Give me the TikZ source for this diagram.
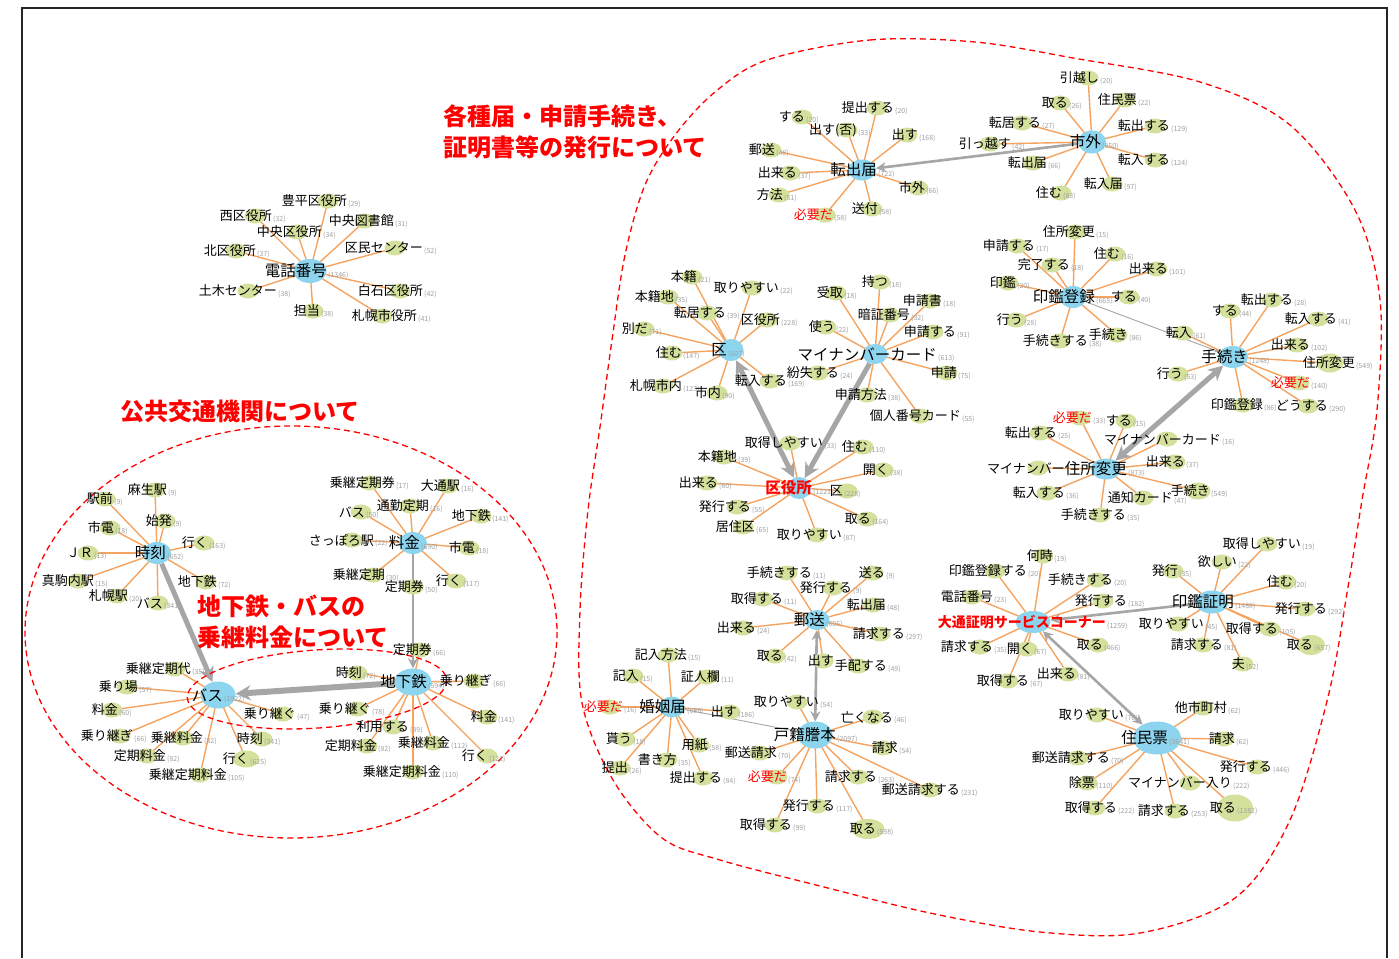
\documentclass[tikz,border=0pt]{standalone}
\usepackage{fontspec}
\setmainfont{Noto Sans CJK JP}
\usetikzlibrary{arrows.meta,shapes.geometric}
\pgfdeclarelayer{bglayer}
\pgfdeclarelayer{edgelayer}
\pgfdeclarelayer{labellayer}
\pgfsetlayers{bglayer,edgelayer,main,labellayer}
\definecolor{hubc}{HTML}{8DD5EE}
\definecolor{leafc}{HTML}{D4E19C}
\definecolor{edgec}{HTML}{F4A460}
\definecolor{arrc}{HTML}{A6A6A6}
\definecolor{cntc}{HTML}{A0A0A0}
\newcount\leafno
\pgfkeys{/leaf/.cd, dx/.code={\def\leafdx{#1}}, w/.code={\def\leafw{#1}}, h/.code={\def\leafh{#1}}}
\tikzset{
  hubnode/.style={ellipse, fill=hubc, draw=none, inner sep=0pt, minimum width=30pt, minimum height=22pt},
  leafnode/.style={ellipse, fill=leafc, draw=none, inner sep=0pt},
  edge/.style={draw=edgec, line width=1.4pt},
  lbl/.style={anchor=east, inner sep=0pt, font=\fontsize{13}{13}\selectfont},
  hublbl/.style={anchor=east, inner sep=0pt, font=\fontsize{15.5}{15.5}\selectfont},
  cnt/.style={anchor=base west, inner sep=0pt, text=cntc, font=\fontsize{7}{7}\selectfont},
  title/.style={anchor=west, inner sep=0pt, text=red, font=\fontsize{24}{24}\selectfont\bfseries},
  reddash/.style={draw=red, line width=1.3pt, dash pattern=on 6pt off 4pt},
  bigarr/.style={draw=arrc, line width=5pt, -{Stealth[length=15pt,width=15pt]}},
  bigdbl/.style={draw=arrc, line width=5pt, {Stealth[length=15pt,width=15pt]}-{Stealth[length=15pt,width=15pt]}},
  midarr/.style={draw=arrc, line width=2.6pt, -{Stealth[length=10pt,width=10pt]}},
  middbl/.style={draw=arrc, line width=2.6pt, {Stealth[length=10pt,width=10pt]}-{Stealth[length=10pt,width=10pt]}},
  slimarr/.style={draw=arrc, line width=0.9pt, -{Stealth[length=5pt,width=4pt]}}
}
\newcommand\Hub[7][]{%
  \node[hubnode,#1] (#2) at (#3,#4) {};
  \begin{pgfonlayer}{labellayer}
    \node[hublbl] (#2t) at (#5,#4) {#6};
    \node[cnt] (#2c) at ({#5+1},{#4+6}) {(#7)};
  \end{pgfonlayer}}
\newcommand\Leaf[6][]{%
  \def\leafdx{16}\def\leafw{21}\def\leafh{15}%
  \pgfkeys{/leaf/.cd,#1}%
  \global\advance\leafno by 1\relax
  \node[leafnode,minimum width=\leafw pt,minimum height=\leafh pt] (L\the\leafno) at ({#3-(\leafdx)},{#4}) {};
  \begin{pgfonlayer}{edgelayer}
    \draw[edge] (#2.center) -- (L\the\leafno.center);
  \end{pgfonlayer}
  \begin{pgfonlayer}{labellayer}
    \node[lbl] (T\the\leafno) at (#3,#4) {#5};
    \node[cnt] (C\the\leafno) at ({#3+1},{#4+5}) {\if\relax\detokenize{#6}\relax\else(#6)\fi};
  \end{pgfonlayer}}
\begin{document}
\begin{tikzpicture}[x=1pt,y=-1pt]
\useasboundingbox (0,0) rectangle (1399,958);
\begin{pgfonlayer}{bglayer}
\fill[white] (0,0) rectangle (1399,958);
\end{pgfonlayer}
\draw[line width=1.3pt, black!85] (22,958) -- (22,8) -- (1387,8) -- (1387,958);

% titles
\node[title] (t1) at (443,116) {各種届・申請手続き、};
\node[title] (t2) at (443,147) {証明書等の発行について};
\node[title] (t3) at (120,411) {公共交通機関について};
\node[title] (t4) at (197,606) {地下鉄・バスの};
\node[title] (t5) at (197,637) {乗継料金について};

% dashed regions
\draw[reddash] (291,632) ellipse [x radius=266, y radius=206];
\draw[reddash, rotate around={4:(317,689)}] (317,689) ellipse [x radius=130, y radius=39];
\draw[reddash] plot[smooth cycle, tension=0.55] coordinates {
 (767,60) (870,40) (975,42) (1073,58) (1200,82) (1290,125) (1355,210) (1380,300)
 (1377,410) (1362,500) (1348,587) (1328,697) (1290,820) (1235,898) (1140,933)
 (1040,932) (930,913) (820,886) (720,860) (662,838) (613,780) (582,703) (580,610)
 (588,510) (600,427) (612,340) (625,255) (645,185) (675,135) (715,92)};

% ===== 電話番号
\Hub[minimum width=33pt,minimum height=24pt]{tel}{310}{271}{327}{電話番号}{1346}
\Leaf[dx=19]{tel}{347}{201}{豊平区役所}{29}
\Leaf[dx=17]{tel}{272}{216}{西区役所}{32}
\Leaf[dx=29]{tel}{394}{221}{中央図書館}{31}
\Leaf[dx=25]{tel}{322}{232}{中央区役所}{34}
\Leaf[dx=20]{tel}{256}{251}{北区役所}{37}
\Leaf[dx=28]{tel}{423}{248}{区民センター}{52}
\Leaf[dx=29]{tel}{277}{291}{土木センター}{38}
\Leaf[dx=23]{tel}{423}{291}{白石区役所}{42}
\Leaf[dx=7]{tel}{320}{311}{担当}{38}
\Leaf[dx=35]{tel}{417}{316}{札幌市役所}{41}

% ===== 時刻
\Hub[minimum width=28pt,minimum height=22pt]{jikoku}{157}{553}{166}{時刻}{652}
\Leaf[dx=12]{jikoku}{167}{490}{麻生駅}{9}
\Leaf[dx=8]{jikoku}{113}{499}{駅前}{9}
\Leaf[dx=7]{jikoku}{172}{521}{始発}{9}
\Leaf[dx=4]{jikoku}{114}{528}{市電}{18}
\Leaf[dx=4]{jikoku}{208}{543}{行く}{163}
\Leaf[dx=5]{jikoku}{93}{553}{ＪＲ}{13}
\Leaf[dx=16]{jikoku}{94}{581}{真駒内駅}{15}
\Leaf[dx=11]{jikoku}{217}{582}{地下鉄}{72}
\Leaf[dx=11]{jikoku}{128}{596}{札幌駅}{20}
\Leaf[dx=5]{jikoku}{163}{603}{バス}{341}

% ===== バス
\Hub[minimum width=35pt,minimum height=27pt]{bus}{218}{695}{223}{バス}{1922}
\Leaf[dx=16]{bus}{191}{669}{乗継定期代}{35}
\Leaf[dx=11]{bus}{138}{687}{乗り場}{57}
\Leaf[dx=6]{bus}{118}{710}{料金}{60}
\Leaf[dx=13]{bus}{133}{736}{乗り継ぎ}{66}
\Leaf[dx=20]{bus}{203}{738}{乗継料金}{82}
\Leaf[dx=19]{bus}{166}{756}{定期料金}{82}
\Leaf[dx=1]{bus}{263}{739}{時刻}{341}
\Leaf[dx=3,w=27,h=17]{bus}{249}{759}{行く}{625}
\Leaf[dx=27]{bus}{227}{775}{乗継定期料金}{105}
\Leaf[dx=13]{bus}{296}{714}{乗り継ぐ}{47}

% ===== 料金
\Hub[minimum width=28pt,minimum height=22pt]{ryokin}{413}{543}{420}{料金}{690}
\Leaf[dx=25]{ryokin}{395}{483}{乗継定期券}{17}
\Leaf[dx=12]{ryokin}{460}{486}{大通駅}{16}
\Leaf[dx=4]{ryokin}{365}{512}{バス}{50}
\Leaf[dx=19]{ryokin}{429}{506}{通勤定期}{16}
\Leaf[dx=10]{ryokin}{491}{516}{地下鉄}{141}
\Leaf[dx=22]{ryokin}{374}{540}{さっぽろ駅}{22}
\Leaf[dx=6]{ryokin}{475}{548}{市電}{18}
\Leaf[dx=12]{ryokin}{385}{575}{乗継定期}{30}
\Leaf[dx=6]{ryokin}{462}{581}{行く}{117}
\Leaf[dx=11]{ryokin}{424}{587}{定期券}{50}

% ===== 地下鉄
\Hub[minimum width=37pt,minimum height=27pt]{chika}{413}{682}{427}{地下鉄}{594}
\Leaf[dx=12]{chika}{432}{650}{定期券}{66}
\Leaf[dx=5]{chika}{362}{673}{時刻}{72}
\Leaf[dx=18]{chika}{492}{681}{乗り継ぎ}{66}
\Leaf[dx=14]{chika}{371}{709}{乗り継ぐ}{78}
\Leaf[dx=16]{chika}{409}{727}{利用する}{89}
\Leaf[dx=10]{chika}{497}{717}{料金}{141}
\Leaf[dx=10]{chika}{377}{746}{定期料金}{82}
\Leaf[dx=17]{chika}{450}{743}{乗継料金}{112}
\Leaf[dx=1]{chika}{488}{756}{行く}{122}
\Leaf[dx=28]{chika}{441}{772}{乗継定期料金}{110}

% ===== 転出届
\Hub[minimum width=28pt,minimum height=21pt]{tenshutsu}{862}{170}{877}{転出届}{722}
\Leaf[dx=17]{tenshutsu}{894}{108}{提出する}{20}
\Leaf[dx=3]{tenshutsu}{805}{117}{する}{20}
\Leaf[dx=10]{tenshutsu}{857}{130}{出す(否)}{33}
\Leaf[dx=11]{tenshutsu}{918}{135}{出す}{168}
\Leaf[dx=4]{tenshutsu}{775}{150}{郵送}{48}
\Leaf[dx=7]{tenshutsu}{797}{173}{出来る}{37}
\Leaf[dx=7]{tenshutsu}{925}{188}{市外}{66}
\Leaf[dx=4]{tenshutsu}{783}{195}{方法}{51}
\Leaf[dx=6]{tenshutsu}{878}{209}{送付}{58}
\Leaf[dx=8]{tenshutsu}{833}{215}{\color{red}必要だ}{58}

% ===== 市外
\Hub[minimum width=28pt,minimum height=23pt]{shigai}{1092}{142}{1101}{市外}{850}
\Leaf[dx=11]{shigai}{1099}{78}{引越し}{20}
\Leaf[dx=8]{shigai}{1068}{103}{取る}{26}
\Leaf[dx=12]{shigai}{1137}{100}{住民票}{22}
\Leaf[dx=19]{shigai}{1041}{123}{転居する}{27}
\Leaf[dx=15]{shigai}{1170}{126}{転出する}{129}
\Leaf[dx=21]{shigai}{1011}{144}{引っ越す}{42}
\Leaf[dx=14]{shigai}{1047}{163}{転出届}{66}
\Leaf[dx=15]{shigai}{1170}{160}{転入する}{124}
\Leaf[dx=11]{shigai}{1123}{184}{転入届}{97}
\Leaf[dx=1]{shigai}{1062}{193}{住む}{83}

% ===== 区
\Hub[minimum width=25pt,minimum height=22pt]{ku}{731}{350}{727}{区}{607}
\Leaf[dx=5]{ku}{697}{277}{本籍}{21}
\Leaf[dx=27]{ku}{779}{288}{取りやすい}{22}
\Leaf[dx=6]{ku}{674}{297}{本籍地}{35}
\Leaf[dx=19]{ku}{726}{313}{転居する}{39}
\Leaf[dx=13]{ku}{780}{320}{区役所}{228}
\Leaf[dx=4]{ku}{648}{329}{別だ}{71}
\Leaf[dx=10]{ku}{682}{353}{住む}{147}
\Leaf[dx=19]{ku}{682}{386}{札幌市内}{123}
\Leaf[dx=4]{ku}{721}{393}{市内}{90}
\Leaf[dx=17]{ku}{787}{381}{転入する}{169}

% ===== マイナンバーカード
\Hub[minimum width=25pt,minimum height=20pt]{mynum}{875}{354}{937}{マイナンバーカード}{613}
\Leaf[dx=8]{mynum}{888}{282}{持つ}{18}
\Leaf[dx=7]{mynum}{843}{293}{受取}{18}
\Leaf[dx=12]{mynum}{942}{301}{申請書}{18}
\Leaf[dx=20]{mynum}{910}{315}{暗証番号}{32}
\Leaf[dx=9]{mynum}{835}{327}{使う}{22}
\Leaf[dx=23]{mynum}{956}{332}{申請する}{91}
\Leaf[dx=21]{mynum}{839}{373}{紛失する}{24}
\Leaf[dx=10]{mynum}{957}{373}{申請}{75}
\Leaf[dx=20]{mynum}{887}{395}{申請方法}{38}
\Leaf[dx=41]{mynum}{961}{416}{個人番号カード}{55}

% ===== 区役所
\Hub[minimum width=24pt,minimum height=22pt]{kuyaku}{799}{488}{812}{\bfseries\color{red}区役所}{1221}
\Leaf[dx=33]{kuyaku}{823}{443}{取得しやすい}{33}
\Leaf[dx=5]{kuyaku}{868}{447}{住む}{110}
\Leaf[dx=13]{kuyaku}{737}{457}{本籍地}{39}
\Leaf[dx=6]{kuyaku}{889}{470}{開く}{38}
\Leaf[dx=11]{kuyaku}{718}{483}{出来る}{60}
\Leaf[dx=-4]{kuyaku}{843}{491}{区}{228}
\Leaf[dx=14]{kuyaku}{751}{507}{発行する}{55}
\Leaf[dx=4]{kuyaku}{871}{519}{取る}{164}
\Leaf[dx=12]{kuyaku}{755}{527}{居住区}{65}
\Leaf[dx=25]{kuyaku}{842}{535}{取りやすい}{87}

% ===== 印鑑登録
\Hub[minimum width=27pt,minimum height=22pt]{inkan}{1073}{297}{1095}{印鑑登録}{665}
\Leaf[dx=20]{inkan}{1095}{232}{住所変更}{15}
\Leaf[dx=18]{inkan}{1035}{246}{申請する}{17}
\Leaf[dx=5]{inkan}{1120}{254}{住む}{16}
\Leaf[dx=18]{inkan}{1070}{265}{完了する}{18}
\Leaf[dx=11]{inkan}{1168}{269}{出来る}{101}
\Leaf[dx=8]{inkan}{1016}{283}{印鑑}{20}
\Leaf[dx=8]{inkan}{1137}{297}{する}{40}
\Leaf[dx=7]{inkan}{1023}{320}{行う}{28}
\Leaf[dx=28]{inkan}{1088}{341}{手続きする}{38}
\Leaf[dx=11]{inkan}{1128}{335}{手続き}{86}

% ===== 手続き
\Hub[minimum width=30pt,minimum height=22pt]{tetsuzuki}{1233}{357}{1248}{手続き}{1248}
\Leaf[dx=9]{tetsuzuki}{1192}{333}{転入}{61}
\Leaf[dx=8]{tetsuzuki}{1238}{311}{する}{44}
\Leaf[dx=21]{tetsuzuki}{1293}{300}{転出する}{28}
\Leaf[dx=19]{tetsuzuki}{1337}{319}{転入する}{41}
\Leaf[dx=13]{tetsuzuki}{1310}{345}{出来る}{102}
\Leaf[dx=25,w=27,h=19]{tetsuzuki}{1355}{363}{住所変更}{549}
\Leaf[dx=5]{tetsuzuki}{1183}{374}{行う}{53}
\Leaf[dx=11]{tetsuzuki}{1310}{383}{\color{red}必要だ}{140}
\Leaf[dx=20]{tetsuzuki}{1263}{405}{印鑑登録}{86}
\Leaf[dx=20]{tetsuzuki}{1328}{406}{どうする}{290}

% ===== 住所変更
\Hub[minimum width=30pt,minimum height=21pt]{jusho}{1106}{469}{1127}{住所変更}{873}
\Leaf[dx=12]{jusho}{1092}{418}{\color{red}必要だ}{33}
\Leaf[dx=6]{jusho}{1132}{421}{する}{15}
\Leaf[dx=17]{jusho}{1057}{433}{転出する}{25}
\Leaf[dx=54]{jusho}{1221}{439}{マイナンバーカード}{16}
\Leaf[dx=10]{jusho}{1185}{462}{出来る}{37}
\Leaf[dx=27]{jusho}{1065}{468}{マイナンバー}{}
\Leaf[dx=18]{jusho}{1065}{493}{転入する}{36}
\Leaf[dx=12,w=25,h=17]{jusho}{1210}{491}{手続き}{549}
\Leaf[dx=30]{jusho}{1173}{498}{通知カード}{47}
\Leaf[dx=26]{jusho}{1126}{515}{手続きする}{35}

% ===== 郵送
\Hub[minimum width=25pt,minimum height=20pt]{yuso}{817}{620}{825}{郵送}{606}
\Leaf[dx=25]{yuso}{812}{573}{手続きする}{11}
\Leaf[dx=12]{yuso}{885}{573}{送る}{9}
\Leaf[dx=19]{yuso}{852}{588}{発行する}{9}
\Leaf[dx=20]{yuso}{783}{599}{取得する}{11}
\Leaf[dx=13]{yuso}{886}{605}{転出届}{48}
\Leaf[dx=13]{yuso}{756}{628}{出来る}{24}
\Leaf[dx=25]{yuso}{905}{634}{請求する}{297}
\Leaf[dx=8]{yuso}{783}{656}{取る}{42}
\Leaf[dx=11]{yuso}{834}{661}{出す}{}
\Leaf[dx=29]{yuso}{887}{666}{手配する}{49}

% ===== 婚姻届
\Hub[minimum width=25pt,minimum height=21pt]{konin}{672}{707}{686}{婚姻届}{689}
\Leaf[dx=19]{konin}{687}{655}{記入方法}{15}
\Leaf[dx=6]{konin}{639}{676}{記入}{15}
\Leaf[dx=13]{konin}{720}{677}{証人欄}{11}
\Leaf[dx=13]{konin}{623}{707}{\color{red}必要だ}{16}
\Leaf[dx=7]{konin}{737}{712}{出す}{186}
\Leaf[dx=7]{konin}{632}{739}{貰う}{18}
\Leaf[dx=9]{konin}{708}{745}{用紙}{58}
\Leaf[dx=10]{konin}{677}{760}{書き方}{35}
\Leaf[dx=8]{konin}{628}{768}{提出}{26}
\Leaf[dx=19]{konin}{722}{778}{提出する}{84}

% ===== 戸籍謄本
\Hub[minimum width=35pt,minimum height=27pt]{koseki}{815}{735}{836}{戸籍謄本}{2097}
\Leaf[dx=22]{koseki}{819}{702}{取りやすい}{54}
\Leaf[dx=20]{koseki}{893}{717}{亡くなる}{46}
\Leaf[dx=15]{koseki}{898}{748}{請求}{54}
\Leaf[dx=17]{koseki}{777}{753}{郵送請求}{70}
\Leaf[dx=10]{koseki}{787}{777}{\color{red}必要だ}{74}
\Leaf[dx=19]{koseki}{877}{777}{請求する}{263}
\Leaf[dx=30]{koseki}{960}{790}{郵送請求する}{231}
\Leaf[dx=18]{koseki}{835}{806}{発行する}{117}
\Leaf[dx=17]{koseki}{792}{825}{取得する}{99}
\Leaf[dx=8,w=33,h=20]{koseki}{876}{829}{取る}{598}

% ===== 大通証明サービスコーナー
\Hub[minimum width=35pt,minimum height=22pt]{odori}{1033}{622}{1106}{\fontsize{14}{14}\selectfont\bfseries\color{red}大通証明サービスコーナー}{1259}
\Leaf[dx=10]{odori}{1053}{556}{何時}{19}
\Leaf[dx=32]{odori}{1027}{571}{印鑑登録する}{20}
\Leaf[dx=16]{odori}{1113}{580}{手続きする}{20}
\Leaf[dx=21]{odori}{993}{597}{電話番号}{23}
\Leaf[dx=24]{odori}{1127}{601}{発行する}{182}
\Leaf[dx=13]{odori}{993}{647}{請求する}{35}
\Leaf[dx=6]{odori}{1033}{649}{開く}{67}
\Leaf[dx=5]{odori}{1103}{645}{取る}{466}
\Leaf[dx=8]{odori}{1076}{674}{出来る}{81}
\Leaf[dx=21]{odori}{1029}{681}{取得する}{67}

% ===== 印鑑証明
\Hub[minimum width=33pt,minimum height=23pt]{inshou}{1212}{602}{1234}{印鑑証明}{1488}
\Leaf[dx=34]{inshou}{1301}{544}{取得しやすい}{19}
\Leaf[dx=15]{inshou}{1237}{562}{欲しい}{22}
\Leaf[dx=5]{inshou}{1178}{571}{発行}{35}
\Leaf[dx=7]{inshou}{1293}{582}{住む}{20}
\Leaf[dx=22]{inshou}{1327}{609}{発行する}{292}
\Leaf[dx=26]{inshou}{1204}{624}{取りやすい}{45}
\Leaf[dx=8]{inshou}{1278}{629}{取得する}{105}
\Leaf[dx=2,w=28,h=20]{inshou}{1313}{645}{取る}{657}
\Leaf[dx=20]{inshou}{1223}{645}{請求する}{81}
\Leaf[dx=2]{inshou}{1245}{664}{夫}{52}

% ===== 住民票
\Hub[minimum width=48pt,minimum height=33pt]{jumin}{1157}{738}{1168}{住民票}{3641}
\Leaf[dx=24]{jumin}{1227}{708}{他市町村}{62}
\Leaf[dx=27]{jumin}{1124}{715}{取りやすい}{76}
\Leaf[dx=11]{jumin}{1235}{739}{請求}{62}
\Leaf[dx=32]{jumin}{1110}{758}{郵送請求する}{70}
\Leaf[dx=15]{jumin}{1272}{767}{発行する}{446}
\Leaf[dx=8]{jumin}{1095}{783}{除票}{110}
\Leaf[dx=42]{jumin}{1232}{783}{マイナンバー入り}{222}
\Leaf[dx=22]{jumin}{1117}{808}{取得する}{222}
\Leaf[dx=15]{jumin}{1190}{811}{請求する}{253}
\Leaf[dx=1,w=36,h=27]{jumin}{1236}{808}{取る}{1382}

% ===== links between hubs
\begin{pgfonlayer}{edgelayer}
\draw[bigarr] (jikoku) -- (bus);
\draw[midarr] (ryokin) -- (chika);
\draw[bigarr, line width=6pt] (chika) -- (bus);
\draw[midarr] (shigai) -- (tenshutsu);
\draw[bigdbl] (ku) -- (kuyaku);
\draw[bigarr] (mynum) -- (kuyaku);
\draw[slimarr] (inkan) -- (tetsuzuki);
\draw[bigdbl] (tetsuzuki) -- (jusho);
\draw[middbl] (yuso) -- (koseki);
\draw[slimarr] (konin) -- (koseki);
\draw[midarr] (inshou) -- (odori);
\draw[middbl] (jumin) -- (odori);
\end{pgfonlayer}
\end{tikzpicture}
\end{document}
